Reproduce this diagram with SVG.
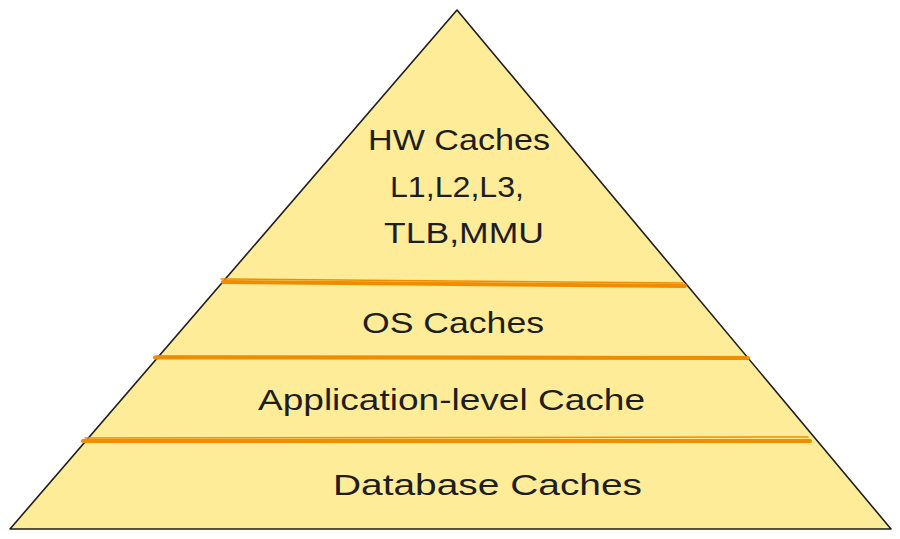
<svg xmlns="http://www.w3.org/2000/svg" width="900" height="539" viewBox="0 0 900 539">
<style>
.lbl{font-family:"Liberation Sans",Arial,sans-serif;font-size:29px;fill:#1e1e1e;text-anchor:start}
.sep{stroke:#f08c00;stroke-linecap:round;fill:none}
</style>
<rect width="900" height="539" fill="#ffffff"/>
<g id="pyramid">
<path d="M457,10 L891,529 L10,529 Z" fill="#ffec99" stroke="#1e1e1e" stroke-width="1.6" stroke-linejoin="round"/>
</g>
<g id="connectors">
<path class="sep" stroke-width="4" d="M223,282 L685,286"/>
<path class="sep" stroke-width="1.5" d="M221,279 L683,283"/>
<path class="sep" stroke-width="4" d="M155,357.5 L748,358"/>
<path class="sep" stroke-width="1.5" d="M157,356 L740,357"/>
<path class="sep" stroke-width="4" d="M83,441 L810,441"/>
<path class="sep" stroke-width="1.5" d="M85,438 L808,437"/>
</g>
<g id="hw">
<text class="lbl" x="368" y="150" textLength="182" lengthAdjust="spacingAndGlyphs">HW Caches</text>
<text class="lbl" x="390" y="197" textLength="134" lengthAdjust="spacingAndGlyphs">L1,L2,L3,</text>
<text class="lbl" x="384" y="243" textLength="160" lengthAdjust="spacingAndGlyphs">TLB,MMU</text>
</g>
<g id="os">
<text class="lbl" x="362" y="333" textLength="182" lengthAdjust="spacingAndGlyphs">OS Caches</text>
</g>
<g id="app">
<text class="lbl" x="258" y="410" textLength="387" lengthAdjust="spacingAndGlyphs">Application-level Cache</text>
</g>
<g id="db">
<text class="lbl" x="333" y="495" textLength="309" lengthAdjust="spacingAndGlyphs">Database Caches</text>
</g>
</svg>
